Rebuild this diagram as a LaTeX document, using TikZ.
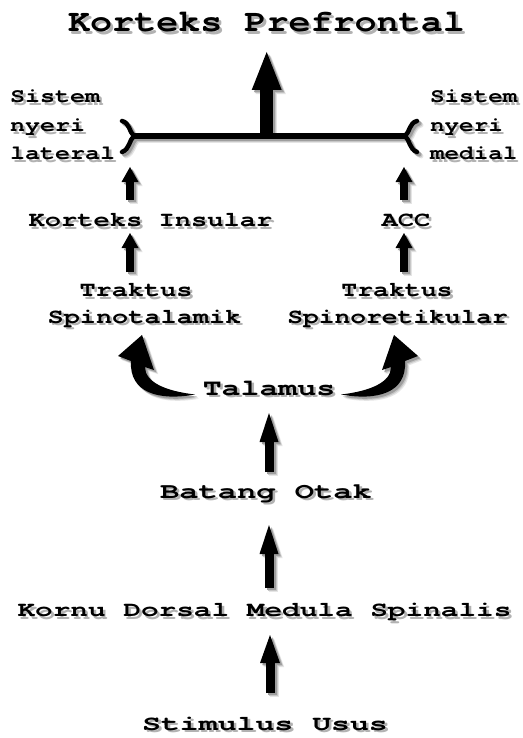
\documentclass[tikz,border=0pt]{standalone}
\usepackage{fontspec}
\usepackage{graphicx}
\newfontfamily\cur{texgyrecursor-bold.otf}
\usetikzlibrary{arrows.meta,calc}
\tikzset{
  lbl/.style={inner sep=0pt, anchor=base},
  blk/.style n args={3}{line width=#1, line cap=butt,
     -{Triangle[width=#2,length=#3,line width=0pt]}},
  bar/.style={line width=6pt},
  brace/.style={line width=4.5pt, line cap=round},
}
\newcommand\sh[1]{%
  \makebox[0pt][l]{\hspace*{2.6pt}\raisebox{-2.6pt}{\color{black!30}#1}}%
  #1}
\newcommand\txt[3]{\sh{\fontsize{#1}{#1}\selectfont\cur\scalebox{#2}[1]{#3}}}
\newcommand\swoosh{%
  \fill (-74,-0.5) .. controls (-110,6) and (-140,-2) .. (-138,-34)
     -- (-151,-39) -- (-127,-60) -- (-115,-25) -- (-124,-28)
     .. controls (-124,-13) and (-104,-4) .. (-74,-0.5) -- cycle;}
\newcommand\shapes{%
  \draw[bar] (barL) -- (barR);
  \begin{scope}[shift={(barL)}]
    \draw[brace] (-11,-15) .. controls (-3,-13) and (-4,-4) .. (1,0)
                 .. controls (-4,4) and (-3,13) .. (-11,16);
  \end{scope}
  \begin{scope}[shift={(barR)}]
    \draw[brace] (11,-15) .. controls (3,-13) and (4,-4) .. (-1,0)
                 .. controls (4,4) and (3,13) .. (11,16);
  \end{scope}
  \draw[blk={13pt}{30pt}{38pt}] (barC) -- ($(title.base)+(0.2,20.3)$);
  \draw[blk={8pt}{17pt}{15pt}] ($(ins.base)+(-20.5,-26.7)$) -- ($(barL)+(-3,31)$);
  \draw[blk={8pt}{17pt}{15pt}] ($(trL1.base)+(-6,-24.7)$) -- ($(ins.base)+(-20.5,6.3)$);
  \draw[blk={8pt}{17pt}{15pt}] ($(acc.base)+(-2,-26.7)$) -- ($(barR)+(-2,31)$);
  \draw[blk={8pt}{17pt}{15pt}] ($(trR1.base)+(7,-24.7)$) -- ($(acc.base)+(-2,6.3)$);
  \draw[blk={9pt}{19pt}{29pt}] ($(bat.base)+(3,-26.3)$) -- ($(tal.base)+(0,18)$);
  \draw[blk={9pt}{19pt}{29pt}] ($(kor.base)+(4.5,-28.7)$) -- ($(bat.base)+(3,26.7)$);
  \draw[blk={9pt}{20pt}{28pt}] ($(sti.base)+(5,-37)$) -- ($(kor.base)+(5.5,18.3)$);
  \begin{scope}[shift={(tal.base)}]
    \swoosh
  \end{scope}
  \begin{scope}[shift={($(tal.base)+(-2,0)$)}, xscale=-1]
    \swoosh
  \end{scope}
}
\begin{document}
\begin{tikzpicture}[x=1pt,y=-1pt]
  \fill[white] (0,0) rectangle (522,738);
  \useasboundingbox (0,0) rectangle (522,738);

  % labels
  \node[lbl] (title) at (266.5,31.7) {\txt{31}{1.185}{Korteks Prefrontal}};
  \node[lbl, anchor=base west] (sisL1) at (10,103)   {\txt{20}{1.25}{Sistem}};
  \node[lbl, anchor=base west] (sisL2) at (10,131.5) {\txt{20}{1.25}{nyeri}};
  \node[lbl, anchor=base west] (sisL3) at (10,160)   {\txt{20}{1.25}{lateral}};
  \node[lbl, anchor=base west] (sisR1) at (430,103)   {\txt{20}{1.21}{Sistem}};
  \node[lbl, anchor=base west] (sisR2) at (430,131.5) {\txt{20}{1.21}{nyeri}};
  \node[lbl, anchor=base west] (sisR3) at (430,160)   {\txt{20}{1.21}{medial}};
  \node[lbl] (ins) at (150.5,226.7) {\txt{21}{1.29}{Korteks Insular}};
  \node[lbl] (acc) at (406,226.7) {\txt{21}{1.29}{ACC}};
  \node[lbl] (trL1) at (136,296.7) {\txt{21}{1.28}{Traktus}};
  \node[lbl] (trL2) at (144.5,323) {\txt{21}{1.28}{Spinotalamik}};
  \node[lbl] (trR1) at (397,296.7) {\txt{21}{1.26}{Traktus}};
  \node[lbl] (trR2) at (397.5,323) {\txt{21}{1.25}{Spinoretikular}};
  \node[lbl] (tal) at (269,395) {\txt{23}{1.37}{Talamus}};
  \node[lbl] (bat) at (266,498.3) {\txt{22}{1.46}{Batang Otak}};
  \node[lbl] (kor) at (264.5,616.7) {\txt{21}{1.4}{Kornu Dorsal Medula Spinalis}};
  \node[lbl] (sti) at (265,730) {\txt{21}{1.5}{Stimulus Usus}};

  % bar coordinates
  \coordinate (barL) at (133,136);
  \coordinate (barR) at (406,136);
  \coordinate (barC) at (266.7,136);

  % shadows then shapes
  \begin{scope}[transform canvas={xshift=4.2pt,yshift=-4.2pt}, black!10]\shapes\end{scope}
  \begin{scope}[transform canvas={xshift=3.2pt,yshift=-3.2pt}, black!22]\shapes\end{scope}
  \begin{scope}[transform canvas={xshift=2.2pt,yshift=-2.2pt}, black!38]\shapes\end{scope}
  \shapes
\end{tikzpicture}
\end{document}
